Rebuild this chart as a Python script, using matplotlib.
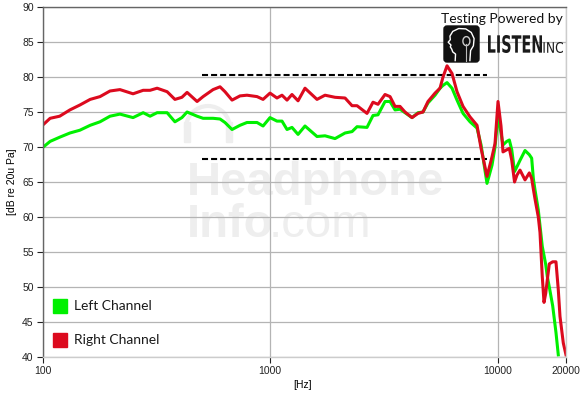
import matplotlib
matplotlib.use('Agg')
import matplotlib.pyplot as plt
import numpy as np
from matplotlib.patches import Rectangle, FancyBboxPatch, PathPatch, Arc
from matplotlib.lines import Line2D
from matplotlib.textpath import TextPath
from matplotlib.font_manager import FontProperties
from matplotlib.transforms import Affine2D
from matplotlib.ticker import NullLocator

FREQ_HZ = [100, 108, 119, 132, 146, 162, 179, 198, 219, 250, 277, 297, 319, 353, 382,
           410, 432, 478, 508, 562, 603, 634, 681, 738, 792, 877, 932, 1000, 1073,
           1129, 1188, 1249, 1328, 1425, 1609, 1745, 1931, 2137, 2294, 2413, 2669,
           2836, 2983, 3203, 3370, 3544, 3727, 3920, 4209, 4472, 4704, 4948, 5314,
           5588, 5760, 6000, 6310, 6637, 7054, 7571, 8127, 8467, 8990, 9458, 9750,
           10050, 10360, 10570, 10980, 11270, 11550, 11880, 12180, 12560, 13210,
           13800, 14130, 14370, 14610, 15110, 15370, 15730, 16010, 16290, 16550,
           16890, 17480, 18070, 18500, 18820, 19460, 20000]

RIGHT_DB = [73.1, 74.1, 74.4, 75.3, 76.0, 76.8, 77.2, 78.0, 78.2, 77.6, 78.1, 78.1, 78.4,
            77.9, 76.8, 77.1, 77.8, 76.5, 77.2, 78.2, 78.6, 77.9, 76.7, 77.3, 77.4,
            77.2, 76.8, 77.7, 77.0, 77.4, 76.7, 77.5, 76.6, 78.4, 76.8, 77.4, 77.1,
            77.0, 75.9, 75.9, 74.8, 76.4, 76.1, 77.5, 77.2, 75.8, 75.8, 75.0, 74.2,
            74.8, 75.0, 76.5, 77.7, 78.4, 80.0, 81.6, 80.5, 77.9, 75.8, 74.3, 73.1,
            69.8, 65.8, 68.6, 70.5, 76.5, 73.0, 69.3, 69.6, 69.8, 68.1, 65.0, 66.0,
            66.7, 65.3, 66.3, 65.5, 64.0, 62.6, 60.0, 57.8, 51.5, 47.8, 49.1, 51.0,
            53.3, 53.6, 53.6, 49.6, 45.8, 42.0, 40.3]

LEFT_DB = [69.9, 70.8, 71.4, 72.0, 72.4, 73.1, 73.6, 74.4, 74.7, 74.2, 74.9, 74.4, 74.9,
           74.9, 73.6, 74.2, 75.0, 74.4, 74.1, 74.1, 74.0, 73.5, 72.5, 73.1, 73.5,
           73.5, 73.0, 74.2, 73.7, 73.7, 72.5, 72.8, 71.8, 73.0, 71.5, 71.6, 71.2,
           72.0, 72.2, 72.9, 72.8, 74.5, 74.6, 76.5, 76.5, 75.3, 75.4, 74.9, 74.2,
           74.9, 75.0, 76.3, 77.4, 78.4, 78.8, 79.2, 78.4, 76.7, 74.8, 73.6, 72.7,
           70.3, 64.8, 67.4, 70.0, 74.5, 72.0, 70.3, 70.8, 71.0, 69.6, 66.5, 67.2,
           68.1, 69.5, 68.9, 68.4, 65.5, 63.9, 61.0, 58.8, 55.8, 54.5, 53.2, 51.5,
           50.0, 47.3, 43.5, 40.3, np.nan, np.nan, np.nan]

BAND_HZ = [500, 9000]
BAND_UPPER_DB = 80.3
BAND_LOWER_DB = 68.3

CHANNEL_NAMES = ['Left Channel', 'Right Channel']
CHANNEL_COLORS = ['#00f000', '#dc0a1e']

X_TICKS = [100, 1000, 10000, 20000]
Y_TICKS = [40, 45, 50, 55, 60, 65, 70, 75, 80, 85, 90]

W, H = 583, 395

fig = plt.figure(figsize=(W / 100, H / 100), dpi=100)
# pixel coords measured from the top-left corner of the picture
PIX = Affine2D().scale(1 / W, -1 / H).translate(0, 1) + fig.transFigure

ax = fig.add_axes([42.5 / W, 38 / H, 523.5 / W, 350 / H])
ax.set_xscale('log')
ax.set_xlim(100, 20000)
ax.set_ylim(40, 90)
ax.set_axisbelow(True)

ax.set_xticks(X_TICKS)
ax.set_xticklabels([str(t) for t in X_TICKS])
ax.xaxis.set_minor_locator(NullLocator())
ax.set_yticks(Y_TICKS)
ax.set_yticklabels([str(t) for t in Y_TICKS])
ax.grid(True, color='#b4b4b4', lw=0.9)

ax.tick_params(axis='both', direction='out', colors='#222222', labelsize=7.5,
               width=0.8, labelfontfamily='Liberation Sans')
ax.tick_params(axis='x', length=4, pad=2.5)
ax.tick_params(axis='y', length=4.5, pad=1.8)

for side in ('left', 'top'):
    ax.spines[side].set_color('#666666')
    ax.spines[side].set_linewidth(1.0)
for side in ('right', 'bottom'):
    ax.spines[side].set_color('#cccccc')
    ax.spines[side].set_linewidth(1.0)

# watermark (under the grid)
wm = '#eeeeee'
ax.text(187, 195, 'Headphone', transform=PIX, fontsize=34, fontweight='bold',
        family='Liberation Sans', color=wm, ha='left', va='baseline', zorder=0.1)
ax.text(187, 237, 'Info', transform=PIX, fontsize=34, fontweight='bold',
        family='Liberation Sans', color=wm, ha='left', va='baseline', zorder=0.1)
ax.text(269, 237, '.com', transform=PIX, fontsize=34,
        family='Liberation Sans', color=wm, ha='left', va='baseline', zorder=0.1)
ax.add_patch(Arc((208, 128), 44, 44, theta1=180, theta2=360, transform=PIX,
                 color=wm, lw=3, zorder=0.1))
for x0 in (184, 226):
    ax.add_patch(Rectangle((x0, 122), 6, 20, transform=PIX, color=wm, zorder=0.1))

# target band
for level in (BAND_UPPER_DB, BAND_LOWER_DB):
    ax.plot(BAND_HZ, [level, level], color='black', lw=1.5,
            linestyle=(0, (2.9, 1.45)), zorder=1.5)

ax.plot(FREQ_HZ, LEFT_DB, color=CHANNEL_COLORS[0], lw=2.2, zorder=2)
ax.plot(FREQ_HZ, RIGHT_DB, color=CHANNEL_COLORS[1], lw=2.2, zorder=2.1)

# axis titles
fig.text(12, 182, '[dB re 20u Pa]', transform=PIX, rotation=90, ha='center',
         va='center', fontsize=7.5, family='Liberation Sans')
fig.text(303, 385, '[Hz]', transform=PIX, ha='center', va='center',
         fontsize=7.5, family='Liberation Sans')

# legend
for i, (name, col) in enumerate(zip(CHANNEL_NAMES, CHANNEL_COLORS)):
    y0 = 299 + i * 34
    fig.add_artist(Rectangle((53, y0), 14, 14, transform=PIX, color=col))
    fig.text(74, y0 + 7, name, transform=PIX, ha='left', va='center',
             fontsize=10, family='Lato', color='#1a1a1a')

# logo
fig.text(562.5, 19, 'Testing Powered by', transform=PIX, ha='right', va='center',
         fontsize=10, family='Lato', color='#111111')
fig.add_artist(FancyBboxPatch((444, 26), 35, 36, boxstyle='round,pad=0,rounding_size=3',
                              transform=PIX, color='#111111'))
head_u = [0.32, 0.33, 0.25, 0.22, 0.18, 0.20, 0.12, 0.18, 0.17, 0.25, 0.42, 0.62,
          0.78, 0.86, 0.84, 0.76, 0.74]
head_v = [0.04, 0.22, 0.28, 0.36, 0.42, 0.47, 0.55, 0.62, 0.72, 0.85, 0.93, 0.92,
          0.82, 0.65, 0.45, 0.32, 0.04]
fig.add_artist(Line2D([444 + u * 35 for u in head_u], [62 - v * 36 for v in head_v],
                      transform=PIX, color='white', lw=1.0))
fig.add_artist(Arc((444 + 0.64 * 35, 62 - 0.58 * 36), 7, 9, transform=PIX,
                   color='#cccccc', lw=1.0))
fig.add_artist(Line2D([444 + 0.62 * 35, 444 + 0.62 * 35], [62 - 0.5 * 36, 61],
                      transform=PIX, color='#bbbbbb', lw=0.8))


def add_squeezed(text, left, baseline, width, height, weight):
    tp = TextPath((0, 0), text, size=1,
                  prop=FontProperties(family='DejaVu Sans', weight=weight))
    ext = tp.get_extents()
    tr = (Affine2D().translate(-ext.x0, -ext.y0)
          .scale(width / ext.width, -height / ext.height)
          .translate(left, baseline) + PIX)
    fig.add_artist(PathPatch(tp, transform=tr, color='#1a1a1a', lw=0))


add_squeezed('LISTEN', 488, 53, 54, 18, 'bold')
add_squeezed('INC', 543.5, 53, 19.5, 11, 'normal')

fig.savefig('out.png', dpi=100)
